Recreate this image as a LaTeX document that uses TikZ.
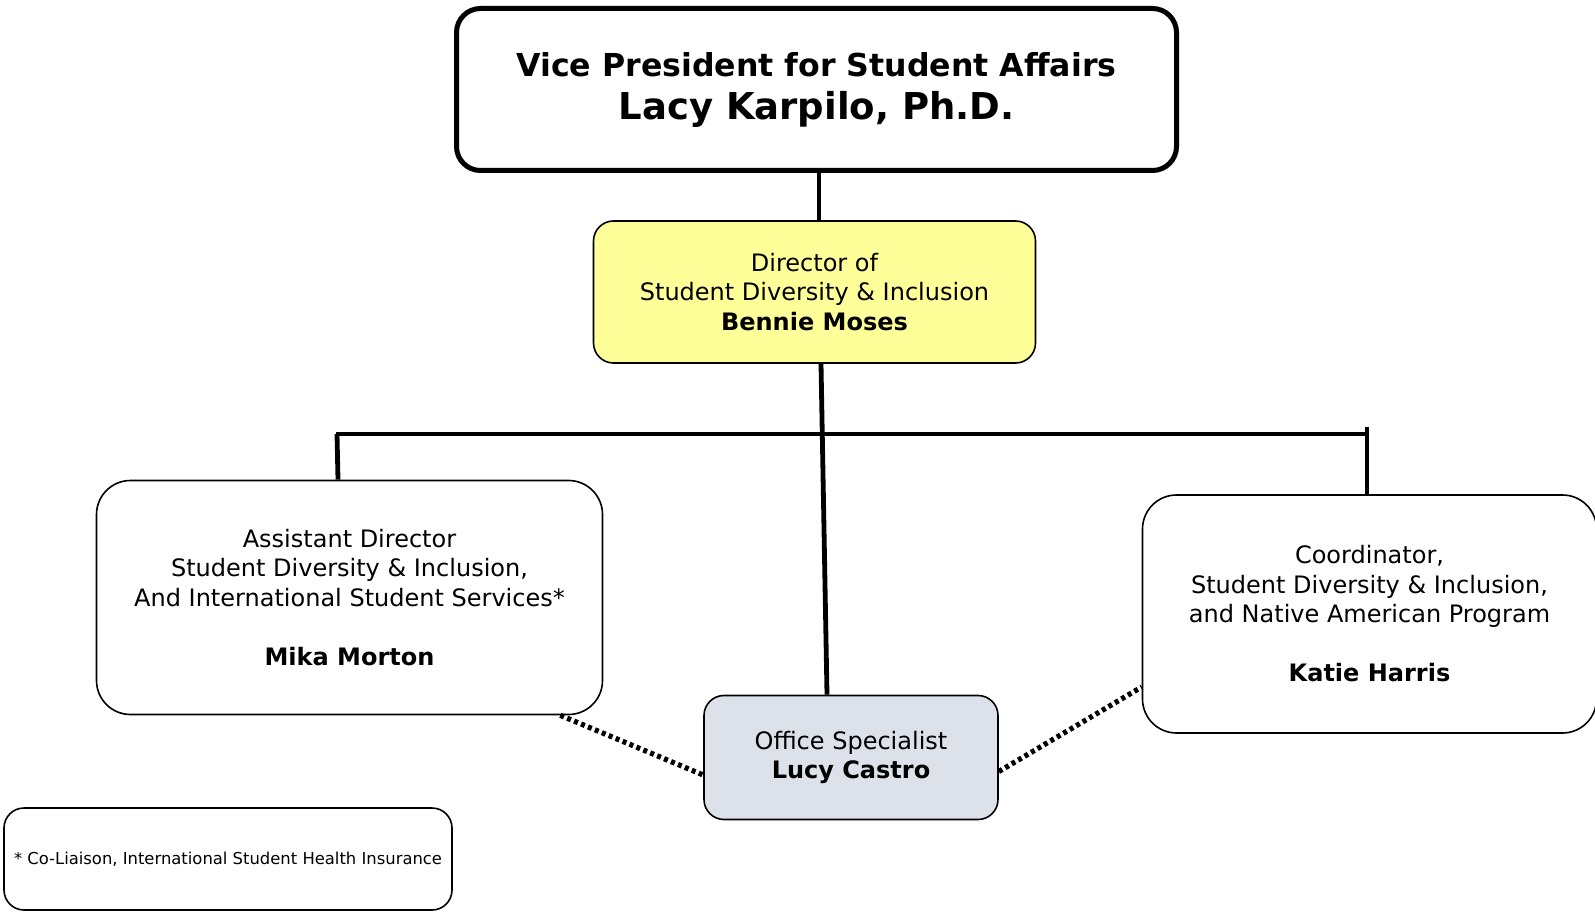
\documentclass[tikz,border=0pt]{standalone}
\usepackage{fontspec}
\setmainfont{DejaVu Sans}
\usetikzlibrary{calc}
\definecolor{diryellow}{RGB}{255,255,153}
\definecolor{officegray}{RGB}{220,225,234}
\begin{document}
\begin{tikzpicture}[x=0.5pt,y=-0.5pt,
  box/.style={draw,line width=0.8pt,rounded corners=12pt,align=center,inner sep=0pt,
    font=\fontsize{12}{14.75}\selectfont},
  conn/.style={line width=2.4pt},
  dotline/.style={line width=2.6pt,dash pattern=on 2pt off 1.75pt}]
\useasboundingbox (0,0) rectangle (1595,914);

% boxes
\node[box,line width=2.5pt,minimum width=360pt,minimum height=81pt,
  font=\fontsize{15.8}{21.5}\selectfont\bfseries] (vp) at (816.5,89.5)
  {Vice President for Student Affairs\\
   {\fontsize{18.5}{21.5}\selectfont Lacy Karpilo, Ph.D.}};
\node[box,fill=diryellow,rounded corners=10pt,minimum width=221pt,minimum height=71pt] (dir) at (814.5,292)
  {Director of\\Student Diversity \& Inclusion\\\textbf{Bennie Moses}};
\node[box,rounded corners=17pt,minimum width=253pt,minimum height=117pt] (asst) at (349.5,597.5)
  {Assistant Director\\Student Diversity \& Inclusion,\\And International Student Services*\\[14.75pt]\textbf{Mika Morton}};
\node[box,rounded corners=17pt,minimum width=227pt,minimum height=119pt] (coord) at (1369.5,614)
  {Coordinator,\\Student Diversity \& Inclusion,\\and Native American Program\\[14.75pt]\textbf{Katie Harris}};
\node[box,fill=officegray,rounded corners=10pt,minimum width=147pt,minimum height=62pt] (office) at (851,757.5)
  {Office Specialist\\\textbf{Lucy Castro}};
\node[box,rounded corners=10pt,minimum width=224pt,minimum height=51pt,
  font=\fontsize{8.2}{10}\selectfont] (note) at (228,859)
  {* Co-Liaison, International Student Health Insurance};

% bar
\coordinate (barL) at (336,434);
\coordinate (barR) at (1367,434);
\coordinate (stubR) at (1367,427);

% connectors
\draw[conn] ([xshift=1.25pt]vp.south) -- ([xshift=2.25pt]dir.north);
\draw[conn] (barL) -- (barR);
\draw[conn] ([xshift=0.5pt]barL) -- ([xshift=-5.75pt]asst.north);
\draw[conn] (stubR) -- ([xshift=-1.25pt]coord.north);
\draw[conn] ([xshift=3.25pt]dir.south) -- ([xshift=-12pt]office.north);
\draw[dotline] ([xshift=-21.5pt]asst.south east) -- ([yshift=-8.75pt]office.west);
\draw[dotline] ([yshift=-7pt]office.east) -- ([yshift=-36.5pt]coord.west);
\end{tikzpicture}
\end{document}
